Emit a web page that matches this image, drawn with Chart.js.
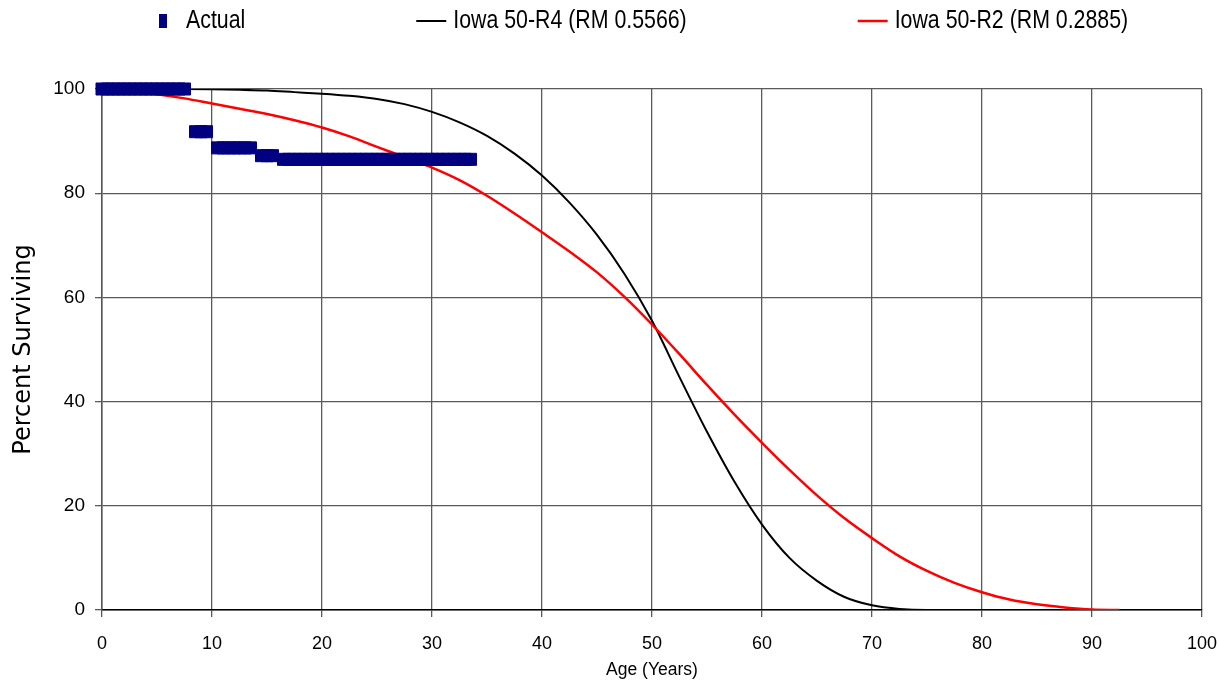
<!DOCTYPE html>
<html>
<head>
<meta charset="utf-8">
<title>Percent Surviving</title>
<script src="https://cdn.jsdelivr.net/npm/chart.js@4.4.1/dist/chart.umd.min.js"></script>
<style>
  html, body { margin: 0; padding: 0; background: #fff; }
  #wrap { width: 1219px; height: 681px; }
</style>
</head>
<body>
<div id="wrap"><canvas id="survivalChart"></canvas></div>
<script>
// Datos observados (edad en años, % sobreviviente)
const actualAges = [0, 0.5, 1, 1.5, 2, 2.5, 3, 3.5, 4, 4.5, 5, 5.5, 6, 6.5, 7, 7.5,
    8.5, 9, 9.5,
    10.5, 11, 11.5, 12, 12.5, 13, 13.5,
    14.5, 15, 15.5,
    16.5, 17, 17.5, 18, 18.5, 19, 19.5, 20, 20.5, 21, 21.5, 22, 22.5, 23, 23.5, 24, 24.5,
    25, 25.5, 26, 26.5, 27, 27.5, 28, 28.5, 29, 29.5, 30, 30.5, 31, 31.5, 32, 32.5, 33, 33.5];
const actualPercent = [100, 100, 100, 100, 100, 100, 100, 100, 100, 100, 100, 100, 100, 100, 100, 100,
    91.8, 91.8, 91.8,
    88.7, 88.7, 88.7, 88.7, 88.7, 88.7, 88.7,
    87.2, 87.2, 87.2,
    86.5, 86.5, 86.5, 86.5, 86.5, 86.5, 86.5, 86.5, 86.5, 86.5, 86.5, 86.5, 86.5, 86.5, 86.5, 86.5, 86.5,
    86.5, 86.5, 86.5, 86.5, 86.5, 86.5, 86.5, 86.5, 86.5, 86.5, 86.5, 86.5, 86.5, 86.5, 86.5, 86.5, 86.5, 86.5];

// Curvas Iowa (edad en años)
const curveAges = [0, 2.5, 5, 7.5, 10, 12.5, 15, 17.5, 20, 22.5, 25, 27.5, 30, 32.5, 35, 37.5, 40,
    42.5, 45, 47.5, 50, 52.5, 55, 57.5, 60, 62.5, 65, 67.5, 70, 72.5, 75, 77.5, 80, 82.5, 85, 87.5, 90, 92.5];
const r4Percent = [100, 100, 100, 100, 99.95, 99.85, 99.7, 99.4, 99.1, 98.7, 98.1, 97.1, 95.6, 93.6, 91.0, 87.6, 83.4,
    78.2, 72.0, 64.5, 55.5, 44.7, 34.2, 24.6, 16.4, 10.0, 5.6, 2.5, 0.9, 0.2, 0, 0, 0, 0, 0, 0, 0];
const r2Percent = [100, 99.6, 99.0, 98.2, 97.2, 96.2, 95.2, 94.0, 92.6, 90.9, 88.9, 86.9, 84.9, 82.5, 79.5, 76.1, 72.5,
    68.8, 64.8, 60.1, 54.8, 49.1, 43.2, 37.5, 32.1, 26.9, 22.0, 17.6, 13.8, 10.3, 7.5, 5.2, 3.4, 2.0, 1.1, 0.5, 0.1, 0];

const xTickValues = [0, 10, 20, 30, 40, 50, 60, 70, 80, 90, 100];
const yTickValues = [0, 20, 40, 60, 80, 100];
const seriesLabels = ['Actual', 'Iowa 50-R4 (RM 0.5566)', 'Iowa 50-R2 (RM 0.2885)'];

const REGULAR = '"Liberation Sans", Arial, sans-serif';

function toPoints(xs, ys) {
    return ys.map((v, i) => ({ x: xs[i], y: v }));
}

// Leyenda dibujada a mano arriba del gráfico (texto angosto)
const topLegend = {
    id: 'topLegend',
    afterDraw(chart) {
        const ctx = chart.ctx;
        const squeeze = 0.82;
        const y = 21;
        let x = 159;
        ctx.save();
        ctx.font = '26px ' + REGULAR;
        ctx.textBaseline = 'middle';
        ctx.textAlign = 'left';
        chart.data.datasets.forEach(ds => {
            if (ds.showLine === false) {
                ctx.fillStyle = ds.pointBackgroundColor;
                ctx.fillRect(x, y - 7, 8, 14);
                x += 27;
            } else {
                ctx.strokeStyle = ds.borderColor;
                ctx.lineWidth = ds.borderWidth;
                ctx.beginPath();
                ctx.moveTo(x, y);
                ctx.lineTo(x + 30, y);
                ctx.stroke();
                x += 37;
            }
            ctx.save();
            ctx.translate(x, y);
            ctx.scale(squeeze, 1);
            ctx.fillStyle = '#000';
            ctx.fillText(ds.label, 0, 0);
            ctx.restore();
            x += ctx.measureText(ds.label).width * squeeze + 171;
        });
        ctx.restore();
    }
};

const ctx = document.getElementById('survivalChart').getContext('2d');
const survivalChart = new Chart(ctx, {
    type: 'line',
    data: {
        datasets: [{
            label: seriesLabels[0],
            data: toPoints(actualAges, actualPercent),
            showLine: false,
            pointStyle: 'rect',
            pointRadius: 8.5,
            pointBackgroundColor: '#000080',
            pointBorderColor: '#000080',
            pointBorderWidth: 1,
            clip: false,
            order: 0
        }, {
            label: seriesLabels[1],
            data: toPoints(curveAges, r4Percent),
            borderColor: '#000000',
            borderWidth: 2,
            pointRadius: 0,
            cubicInterpolationMode: 'monotone',
            order: 2
        }, {
            label: seriesLabels[2],
            data: toPoints(curveAges, r2Percent),
            borderColor: '#ff0000',
            borderWidth: 2.5,
            pointRadius: 0,
            cubicInterpolationMode: 'monotone',
            order: 1
        }]
    },
    options: {
        responsive: true,
        maintainAspectRatio: false,
        animation: false,
        events: [],
        layout: { padding: { top: 89, right: 17, left: 0, bottom: 0 } },
        plugins: {
            legend: { display: false },
            tooltip: { enabled: false }
        },
        scales: {
            x: {
                type: 'linear',
                min: 0,
                max: 100,
                afterFit(scale) {
                    scale.height = 71;
                    scale.paddingLeft = 0;
                    scale.paddingRight = 0;
                },
                afterBuildTicks(scale) { scale.ticks = xTickValues.map(v => ({ value: v })); },
                ticks: { padding: 16, maxRotation: 0, color: '#000', font: { family: REGULAR, size: 18 } },
                grid: { color: '#5a5a5a', lineWidth: 1.3, tickLength: 7 },
                border: { color: '#000', width: 1.5 },
                title: {
                    display: true,
                    text: 'Age (Years)',
                    color: '#000',
                    font: { family: REGULAR, size: 17.5 },
                    padding: { top: 1, bottom: 0 }
                }
            },
            y: {
                min: 0,
                max: 100,
                afterFit(scale) { scale.width = 102; },
                afterBuildTicks(scale) { scale.ticks = yTickValues.map(v => ({ value: v })); },
                ticks: { padding: 10, color: '#000', font: { family: REGULAR, size: 19 } },
                grid: { color: '#5a5a5a', lineWidth: 1.3, tickLength: 7 },
                border: { color: '#555', width: 1.5 },
                title: {
                    display: true,
                    text: 'Percent Surviving',
                    color: '#000',
                    font: { family: '"DejaVu Sans", sans-serif', size: 24 },
                    padding: { top: 9, bottom: 0 }
                }
            }
        }
    },
    plugins: [topLegend]
});
</script>
</body>
</html>
